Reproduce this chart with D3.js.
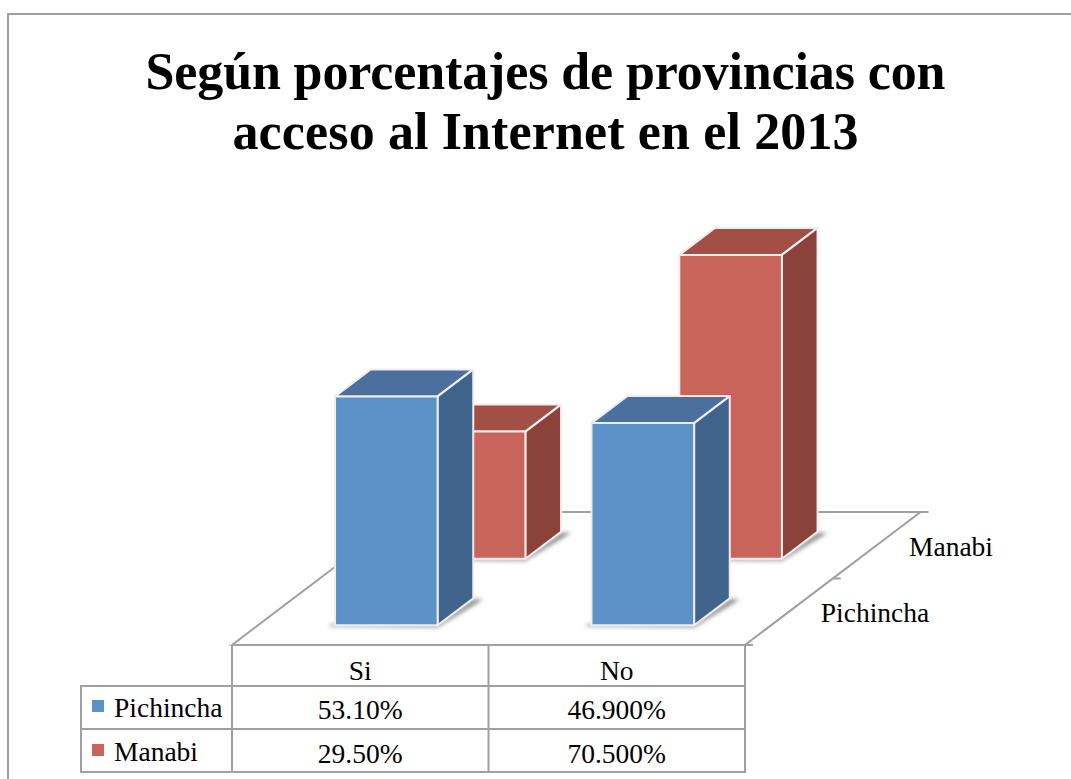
<!DOCTYPE html>
<html lang="es">
<head>
<meta charset="utf-8">
<script src="https://cdn.jsdelivr.net/npm/d3@7"></script>
<style>
html,body{margin:0;padding:0;background:#fff;overflow:hidden}
svg{display:block}
text{font-family:"Liberation Serif",serif;fill:#000}
</style>
</head>
<body>
<div id="chart"></div>
<script>
const titleLines = ["Según porcentajes de provincias con", "acceso al Internet en el 2013"];
const categories = ["Si", "No"];
const seriesNames = ["Pichincha", "Manabi"];
const pichinchaValues = [53.1, 46.9];
const manabiValues = [29.5, 70.5];
const pichinchaLabels = ["53.10%", "46.900%"];
const manabiLabels = ["29.50%", "70.500%"];

const W = 1071, H = 779;
const seriesValues = [pichinchaValues, manabiValues];
const seriesLabels = [pichinchaLabels, manabiLabels];
const palette = {
  Pichincha: {front: "#5c92c7", side: "#41648d", top: "#4b709e"},
  Manabi: {front: "#c8645a", side: "#8a423a", top: "#a24f46"}
};
const gridColor = "#a0a0a0";

const floor = {x0: 232, x1: 745, yFront: 645, yBack: 512, skew: 1.32};

const svg = d3.select("#chart").append("svg").attr("width", W).attr("height", H);
const defs = svg.append("defs");
defs.append("filter").attr("id", "soft").attr("x", "-30%").attr("y", "-30%").attr("width", "160%").attr("height", "160%")
  .append("feGaussianBlur").attr("stdDeviation", 2.2);

// frame: top and left edges only, the picture is cropped on the other sides
svg.append("path").attr("d", `M8,${H} V14 H${W}`)
  .attr("fill", "none").attr("stroke", gridColor).attr("stroke-width", 2);

// title
const titleWidths = [800, 626];
svg.append("g").selectAll("text").data(titleLines).join("text")
  .attr("x", 545.5).attr("y", (d, i) => 89 + i * 60)
  .attr("text-anchor", "middle")
  .attr("font-size", 52).attr("font-weight", 700)
  .attr("textLength", (d, i) => titleWidths[i]).attr("lengthAdjust", "spacing")
  .text(d => d);

// scales
const x = d3.scaleBand().domain(categories).range([floor.x0, floor.x1]).paddingInner(0.6).paddingOuter(0.3);
const depth = d3.scaleBand().domain(seriesNames).range([0, floor.yFront - floor.yBack]).paddingInner(0.594).paddingOuter(0.297);
const h = d3.scaleLinear().domain([0, 100]).range([0, 431]);

// floor
const line = (pts) => d3.line()(pts);
const floorG = svg.append("g").attr("fill", "none").attr("stroke", gridColor).attr("stroke-width", 2);
const backDx = (floor.yFront - floor.yBack) * floor.skew;
floorG.append("path").attr("d", line([[floor.x0 + backDx, floor.yBack], [floor.x0, floor.yFront], [floor.x1 + 8, floor.yFront]]));
floorG.append("path").attr("d", line([[floor.x0 + backDx, floor.yBack], [floor.x1 + backDx + 8, floor.yBack]]));
floorG.append("path").attr("d", line([[floor.x1, floor.yFront], [floor.x1 + backDx, floor.yBack]]));
// depth-axis tick between series
const midDy = (floor.yFront - floor.yBack) / 2;
floorG.append("path").attr("d", line([[floor.x1 + midDy * floor.skew, floor.yFront - midDy], [floor.x1 + midDy * floor.skew + 8, floor.yFront - midDy]]));

// bars: back series first
const marks = svg.append("g");
[1, 0].forEach(si => {
  const name = seriesNames[si];
  const c = palette[name];
  categories.forEach((cat, ci) => {
    const v = seriesValues[si][ci];
    const dFront = depth(name);
    const xl = x(cat) + dFront * floor.skew, xr = xl + x.bandwidth();
    const ox = depth.bandwidth() * floor.skew, oy = depth.bandwidth();
    const yb = floor.yFront - dFront, yt = yb - h(v);
    const g = marks.append("g").attr("class", "bar").datum({series: name, category: cat, value: v});
    g.append("path").attr("filter", "url(#soft)").attr("fill", "#8a8a8a")
      .attr("d", line([[xl - 5, yb + 1], [xr, yb + 2], [xr + ox + 10, yb - oy + 1], [xr + ox, yb - oy + 1], [xr, yb - 1], [xl - 5, yb - 1]]) + "Z");
    const edge = sel => sel.attr("stroke", "#eeeeee").attr("stroke-width", 2).attr("stroke-linejoin", "round");
    g.append("path").attr("fill", c.top).call(edge)
      .attr("d", line([[xl, yt], [xl + ox, yt - oy], [xr + ox, yt - oy], [xr, yt]]) + "Z");
    g.append("path").attr("fill", c.side).call(edge)
      .attr("d", line([[xr, yt], [xr + ox, yt - oy], [xr + ox, yb - oy], [xr, yb]]) + "Z");
    g.append("rect").attr("fill", c.front).call(edge)
      .attr("x", xl).attr("y", yt).attr("width", x.bandwidth()).attr("height", yb - yt);
  });
});

// depth labels
const depthLabels = svg.append("g").attr("font-size", 27.5);
depthLabels.selectAll("text").data(seriesNames).join("text")
  .attr("x", d => ({Pichincha: 875, Manabi: 951}[d]))
  .attr("y", d => ({Pichincha: 622, Manabi: 556}[d]))
  .attr("text-anchor", "middle").text(d => d);

// data table
const tbl = {left: 81, top: 645, head: 686, rows: [729, 772]};
const colEdges = [floor.x0, floor.x0 + x.step(), floor.x1];
const tg = svg.append("g").attr("stroke", gridColor).attr("stroke-width", 2).attr("fill", "none");
colEdges.forEach(cx => tg.append("line").attr("x1", cx).attr("x2", cx).attr("y1", tbl.top).attr("y2", tbl.rows[1] + 1));
[tbl.head, ...tbl.rows].forEach(y => tg.append("line").attr("x1", tbl.left).attr("x2", colEdges[2]).attr("y1", y).attr("y2", y));
tg.append("line").attr("x1", tbl.left).attr("x2", tbl.left).attr("y1", tbl.head - 1).attr("y2", tbl.rows[1] + 1);

const colCenter = i => (colEdges[i] + colEdges[i + 1]) / 2;
const tt = svg.append("g").attr("font-size", 27.5);
categories.forEach((cat, i) => tt.append("text").attr("x", colCenter(i)).attr("y", 680).attr("text-anchor", "middle").text(cat));
seriesNames.forEach((name, r) => {
  const baseY = r === 0 ? 717 : 761;
  svg.append("rect").attr("x", 92).attr("y", baseY - 17).attr("width", 12).attr("height", 12).attr("fill", palette[name].front);
  tt.append("text").attr("x", 114).attr("y", baseY).text(name);
  seriesLabels[r].forEach((lab, i) => tt.append("text").attr("x", colCenter(i)).attr("y", baseY + 2).attr("text-anchor", "middle").text(lab));
});
</script>
</body>
</html>
